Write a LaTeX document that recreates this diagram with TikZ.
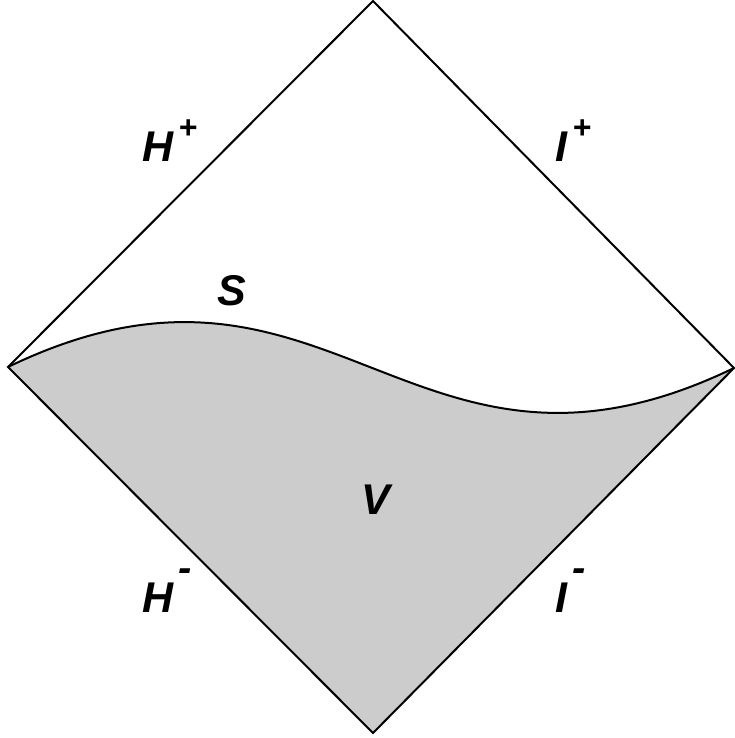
\documentclass[tikz,border=0pt]{standalone}
\usepackage{fontspec}
\setmainfont{Liberation Sans}
\newcommand{\supplus}{\hspace{0.12em}\raisebox{0.55em}{\fontsize{32}{32}\selectfont +}}
\newcommand{\supminus}{\hspace{0.12em}\raisebox{0.72em}{\fontsize{40}{40}\selectfont -}}
\begin{document}
\begin{tikzpicture}[x=1pt,y=-1pt,
  lbl/.style={font=\fontsize{43}{43}\selectfont\bfseries\itshape, inner sep=0pt},
  edge/.style={line width=2pt, line join=miter}]
\useasboundingbox (0,0) rectangle (735,738);
\coordinate (T) at (373,1);
\coordinate (L) at (8,367);
\coordinate (R) at (734,368);
\coordinate (B) at (373,733);
\fill[gray!40] (L) .. controls (331,211) and (411,524) .. (R) -- (B) -- cycle;
\draw[edge] (L) -- (T) -- (R) -- (B) -- cycle;
\draw[edge] (L) .. controls (331,211) and (411,524) .. (R);
\node[lbl, anchor=base west] (hp) at (142,162) {H\supplus};
\node[lbl, anchor=base west] (ip) at (555,162) {I\supplus};
\node[lbl] (s) at (232,291) {S};
\node[lbl] (v) at (376,500) {V};
\node[lbl, anchor=base west] (hm) at (142,612) {H\supminus};
\node[lbl, anchor=base west] (im) at (555,612) {I\supminus};
\end{tikzpicture}
\end{document}
